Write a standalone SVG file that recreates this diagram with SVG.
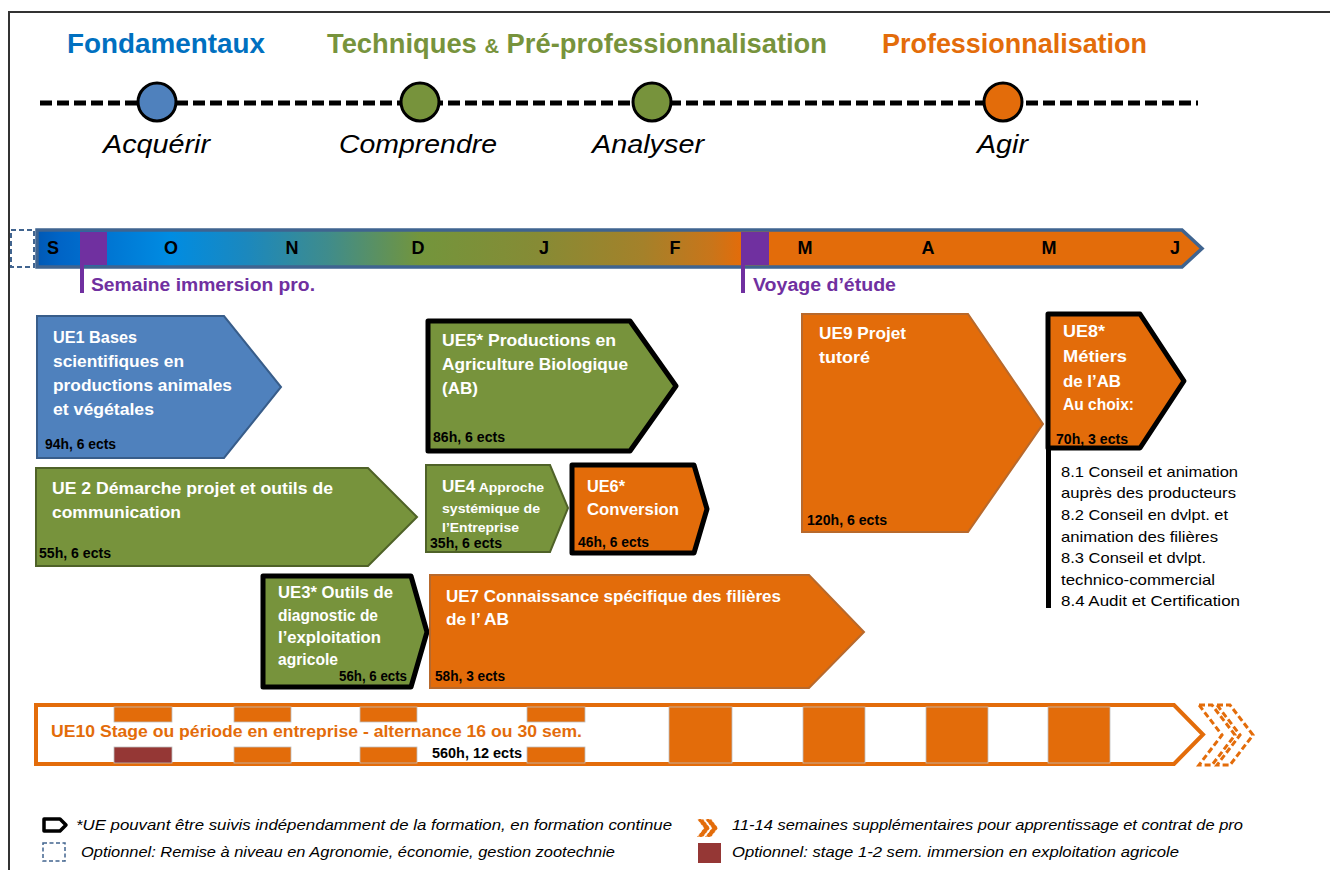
<svg xmlns="http://www.w3.org/2000/svg" width="1330" height="870" viewBox="0 0 1330 870">
<style>
text{font-family:"Liberation Sans",Arial,sans-serif}
.ttl{font-weight:bold;font-size:27px}
.ph{font-style:italic;font-size:26px;fill:#000}
.mo{font-weight:bold;font-size:18px;fill:#000}
.pu{font-weight:bold;font-size:18px;fill:#7030A0}
.ue{font-weight:bold;font-size:16.5px;fill:#fff}
.ues{font-weight:bold;font-size:13.5px;fill:#fff}
.h{font-weight:bold;font-size:14px;fill:#000}
.li{font-size:15px;fill:#000}
.lg{font-style:italic;font-size:15px;fill:#000}
.blue{fill:#4F81BD;stroke:#385D8A;stroke-width:2}
.green{fill:#77933C;stroke:#4F6228;stroke-width:2}
.orange{fill:#E36C0A;stroke:#B8692C;stroke-width:2}
.star{stroke:#000;stroke-width:5;stroke-linejoin:round}
.gf{fill:#77933C}
.of{fill:#E36C0A}
.blk{fill:#E36C0A;stroke:#BFBFBF;stroke-width:0.8}
</style>
<defs>
<linearGradient id="tl" gradientUnits="userSpaceOnUse" x1="36" y1="0" x2="1202" y2="0">
<stop offset="0" stop-color="#0058B4"/>
<stop offset="0.02" stop-color="#0064C6"/>
<stop offset="0.115" stop-color="#008CE2"/>
<stop offset="0.18" stop-color="#1B88BE"/>
<stop offset="0.25" stop-color="#3F8C8C"/>
<stop offset="0.33" stop-color="#73953C"/>
<stop offset="0.43" stop-color="#868B35"/>
<stop offset="0.52" stop-color="#A4812A"/>
<stop offset="0.58" stop-color="#C9751A"/>
<stop offset="0.605" stop-color="#E36C0A"/>
<stop offset="1" stop-color="#E36C0A"/>
</linearGradient>
</defs>
<rect width="1330" height="870" fill="#fff"/>
<!-- frame -->
<path d="M9 870 V12 H1330" fill="none" stroke="#333" stroke-width="2"/>

<!-- titles -->
<g id="titles">
<text class="ttl" x="67" y="53" fill="#0070C0" textLength="198" lengthAdjust="spacingAndGlyphs">Fondamentaux</text>
<text class="ttl" x="327" y="53" fill="#77933C" textLength="500" lengthAdjust="spacingAndGlyphs">Techniques <tspan font-size="20px">&amp;</tspan> Pré-professionnalisation</text>
<text class="ttl" x="882" y="53" fill="#E36C0A" textLength="265" lengthAdjust="spacingAndGlyphs">Professionnalisation</text>
</g>

<!-- connectors -->
<g id="connectors">
<line x1="40" y1="103" x2="1198" y2="103" stroke="#000" stroke-width="5" stroke-dasharray="12 5"/>
</g>

<g id="phase-acquerir">
<circle cx="157" cy="102" r="19" fill="#4F81BD" stroke="#000" stroke-width="3"/>
<text class="ph" x="103" y="153" textLength="107" lengthAdjust="spacingAndGlyphs">Acquérir</text>
</g>
<g id="phase-comprendre">
<circle cx="420" cy="102" r="19" fill="#77933C" stroke="#000" stroke-width="3"/>
<text class="ph" x="339" y="153" textLength="158" lengthAdjust="spacingAndGlyphs">Comprendre</text>
</g>
<g id="phase-analyser">
<circle cx="652" cy="102" r="19" fill="#77933C" stroke="#000" stroke-width="3"/>
<text class="ph" x="592" y="153" textLength="112" lengthAdjust="spacingAndGlyphs">Analyser</text>
</g>
<g id="phase-agir">
<circle cx="1003" cy="102" r="19" fill="#E36C0A" stroke="#000" stroke-width="3"/>
<text class="ph" x="977" y="153" textLength="51" lengthAdjust="spacingAndGlyphs">Agir</text>
</g>

<!-- timeline -->
<g id="timeline">
<rect x="11" y="230" width="23" height="37" fill="none" stroke="#41648F" stroke-width="2" stroke-dasharray="5 3"/>
<polygon points="37,230 1182,230 1202,248.5 1182,267 37,267" fill="url(#tl)" stroke="#3F6490" stroke-width="3.5" stroke-linejoin="miter"/>
<rect x="80" y="232" width="27" height="33" fill="#7030A0"/>
<rect x="741" y="232" width="28" height="33" fill="#7030A0"/>
<rect x="80" y="265" width="4" height="28" fill="#7030A0"/>
<rect x="741" y="265" width="4" height="28" fill="#7030A0"/>
<text class="mo" x="53" y="254" text-anchor="middle">S</text>
<text class="mo" x="171" y="254" text-anchor="middle">O</text>
<text class="mo" x="292" y="254" text-anchor="middle">N</text>
<text class="mo" x="418" y="254" text-anchor="middle">D</text>
<text class="mo" x="544" y="254" text-anchor="middle">J</text>
<text class="mo" x="675" y="254" text-anchor="middle">F</text>
<text class="mo" x="805" y="254" text-anchor="middle">M</text>
<text class="mo" x="928" y="254" text-anchor="middle">A</text>
<text class="mo" x="1049" y="254" text-anchor="middle">M</text>
<text class="mo" x="1175" y="254" text-anchor="middle">J</text>
<text class="pu" x="91" y="291" textLength="224" lengthAdjust="spacingAndGlyphs">Semaine immersion pro.</text>
<text class="pu" x="753" y="291" textLength="143" lengthAdjust="spacingAndGlyphs">Voyage d’étude</text>
</g>

<!-- UE1 -->
<g id="ue1">
<polygon class="blue" points="37,316 224,316 281,387 224,458 37,458"/>
<text class="ue" x="53" y="343" textLength="84" lengthAdjust="spacingAndGlyphs">UE1 Bases</text>
<text class="ue" x="53" y="367" textLength="131" lengthAdjust="spacingAndGlyphs">scientifiques en</text>
<text class="ue" x="53" y="391" textLength="179" lengthAdjust="spacingAndGlyphs">productions  animales</text>
<text class="ue" x="53" y="415" textLength="101" lengthAdjust="spacingAndGlyphs">et végétales</text>
<text class="h" x="45" y="449" textLength="71" lengthAdjust="spacingAndGlyphs">94h, 6 ects</text>
</g>

<!-- UE2 -->
<g id="ue2">
<polygon class="green" points="36,468 368,468 417,517 368,566 36,566"/>
<text class="ue" x="52" y="494" textLength="281" lengthAdjust="spacingAndGlyphs">UE 2 Démarche projet et outils de</text>
<text class="ue" x="52" y="518" textLength="129" lengthAdjust="spacingAndGlyphs">communication</text>
<text class="h" x="39" y="558" textLength="72" lengthAdjust="spacingAndGlyphs">55h, 6 ects</text>
</g>

<!-- UE3 -->
<g id="ue3">
<polygon class="gf star" points="263,576 411,576 427,632 411,687 263,687"/>
<text class="ue" x="278" y="598" textLength="115" lengthAdjust="spacingAndGlyphs">UE3* Outils de</text>
<text class="ue" x="278" y="621" textLength="100" lengthAdjust="spacingAndGlyphs">diagnostic de</text>
<text class="ue" x="278" y="643" textLength="103" lengthAdjust="spacingAndGlyphs">l’exploitation</text>
<text class="ue" x="278" y="665" textLength="60" lengthAdjust="spacingAndGlyphs">agricole</text>
<text class="h" x="339" y="681" textLength="68" lengthAdjust="spacingAndGlyphs">56h, 6 ects</text>
</g>

<!-- UE4 -->
<g id="ue4">
<polygon class="green" points="426,465 550,465 568,508 550,552 426,552"/>
<text class="ue" x="442" y="492" textLength="102" lengthAdjust="spacingAndGlyphs">UE4<tspan font-size="13.5px"> Approche</tspan></text>
<text class="ues" x="442" y="513" textLength="98" lengthAdjust="spacingAndGlyphs">systémique de</text>
<text class="ues" x="442" y="532" textLength="77" lengthAdjust="spacingAndGlyphs">l’Entreprise</text>
<text class="h" x="430" y="548" textLength="72" lengthAdjust="spacingAndGlyphs">35h, 6 ects</text>
</g>

<!-- UE5 -->
<g id="ue5">
<polygon class="gf star" points="428,321 630,321 676,386 630,451 428,451"/>
<text class="ue" x="442" y="346" textLength="174" lengthAdjust="spacingAndGlyphs">UE5* Productions  en</text>
<text class="ue" x="442" y="370" textLength="186" lengthAdjust="spacingAndGlyphs">Agriculture Biologique</text>
<text class="ue" x="442" y="394" textLength="36" lengthAdjust="spacingAndGlyphs">(AB)</text>
<text class="h" x="433" y="442" textLength="72" lengthAdjust="spacingAndGlyphs">86h, 6 ects</text>
</g>

<!-- UE6 -->
<g id="ue6">
<polygon class="of star" points="572,465 694,465 707,509 694,553 572,553"/>
<text class="ue" x="587" y="492" textLength="38" lengthAdjust="spacingAndGlyphs">UE6*</text>
<text class="ue" x="587" y="515" textLength="92" lengthAdjust="spacingAndGlyphs">Conversion</text>
<text class="h" x="578" y="547" textLength="71" lengthAdjust="spacingAndGlyphs">46h, 6 ects</text>
</g>

<!-- UE7 -->
<g id="ue7">
<polygon class="orange" points="430,575 809,575 864,632 809,688 430,688"/>
<text class="ue" x="446" y="602" textLength="335" lengthAdjust="spacingAndGlyphs">UE7 Connaissance  spécifique des filières</text>
<text class="ue" x="446" y="625" textLength="63" lengthAdjust="spacingAndGlyphs">de l’ AB</text>
<text class="h" x="435" y="681" textLength="70" lengthAdjust="spacingAndGlyphs">58h, 3 ects</text>
</g>

<!-- UE9 -->
<g id="ue9">
<polygon class="orange" points="802,314 968,314 1043,424 968,532 802,532"/>
<text class="ue" x="819" y="339" textLength="87" lengthAdjust="spacingAndGlyphs">UE9 Projet</text>
<text class="ue" x="819" y="363" textLength="51" lengthAdjust="spacingAndGlyphs">tutoré</text>
<text class="h" x="807" y="525" textLength="80" lengthAdjust="spacingAndGlyphs">120h, 6 ects</text>
</g>

<!-- UE8 -->
<g id="ue8">
<polygon class="of star" points="1048,314 1140,314 1184,381 1140,448 1048,448"/>
<line x1="1048.5" y1="448" x2="1048.5" y2="608" stroke="#000" stroke-width="5"/>
<text class="ue" x="1063" y="337" textLength="42" lengthAdjust="spacingAndGlyphs">UE8*</text>
<text class="ue" x="1063" y="362" textLength="64" lengthAdjust="spacingAndGlyphs">Métiers</text>
<text class="ue" x="1063" y="387" textLength="58" lengthAdjust="spacingAndGlyphs">de l’AB</text>
<text class="ue" x="1063" y="410" font-size="14px" textLength="71" lengthAdjust="spacingAndGlyphs">Au choix:</text>
<text class="h" x="1056" y="444" textLength="72" lengthAdjust="spacingAndGlyphs">70h, 3 ects</text>
<text class="li" x="1061" y="477" textLength="177" lengthAdjust="spacingAndGlyphs">8.1 Conseil et animation</text>
<text class="li" x="1061" y="498" textLength="175" lengthAdjust="spacingAndGlyphs">auprès des producteurs</text>
<text class="li" x="1061" y="520" textLength="167" lengthAdjust="spacingAndGlyphs">8.2 Conseil en dvlpt. et</text>
<text class="li" x="1061" y="542" textLength="157" lengthAdjust="spacingAndGlyphs">animation des filières</text>
<text class="li" x="1061" y="563" textLength="145" lengthAdjust="spacingAndGlyphs">8.3 Conseil et dvlpt.</text>
<text class="li" x="1061" y="585" textLength="154" lengthAdjust="spacingAndGlyphs">technico-commercial</text>
<text class="li" x="1061" y="606" textLength="179" lengthAdjust="spacingAndGlyphs">8.4 Audit et Certification</text>
</g>

<!-- UE10 -->
<g id="ue10">
<polygon points="36,705 1174,705 1203,734.5 1174,764 36,764" fill="#fff" stroke="#E36C0A" stroke-width="4"/>
<rect class="blk" x="114" y="707" width="58" height="15"/>
<rect x="114" y="747" width="58" height="16" fill="#953735" stroke="#BFBFBF" stroke-width="0.8"/>
<rect class="blk" x="234" y="707" width="57" height="15"/>
<rect class="blk" x="234" y="747" width="57" height="16"/>
<rect class="blk" x="360" y="707" width="57" height="15"/>
<rect class="blk" x="360" y="747" width="57" height="16"/>
<rect class="blk" x="527" y="707" width="58" height="15"/>
<rect class="blk" x="527" y="747" width="58" height="16"/>
<rect class="blk" x="669" y="707" width="63" height="56"/>
<rect class="blk" x="803" y="707" width="62" height="56"/>
<rect class="blk" x="926" y="707" width="62" height="56"/>
<rect class="blk" x="1048" y="707" width="62" height="56"/>
<text class="ue" x="51" y="737" font-size="17.5px" style="fill:#E36C0A" textLength="531" lengthAdjust="spacingAndGlyphs">UE10 Stage ou période en entreprise - alternance 16 ou 30 sem.</text>
<text class="h" x="432" y="758" textLength="90" lengthAdjust="spacingAndGlyphs">560h, 12 ects</text>
<g fill="none" stroke="#E36C0A" stroke-width="3" stroke-dasharray="6 3">
<polygon points="1199,705 1212,705 1235,735 1212,765 1199,765 1222,735"/>
<polygon points="1217,705 1230,705 1253,735 1230,765 1217,765 1240,735"/>
</g>
</g>

<!-- legend -->
<g id="legend">
<polygon points="44,819 60,819 66,825 60,831 44,831" fill="#fff" stroke="#000" stroke-width="3.5" stroke-linejoin="round"/>
<text class="lg" x="76" y="830" textLength="596" lengthAdjust="spacingAndGlyphs">*UE pouvant être suivis  indépendamment de la formation, en formation continue</text>
<rect x="43" y="843" width="22" height="18" fill="none" stroke="#41648F" stroke-width="1.5" stroke-dasharray="4 2.5"/>
<text class="lg" x="81" y="857" textLength="534" lengthAdjust="spacingAndGlyphs">Optionnel: Remise à niveau en Agronomie, économie, gestion zootechnie</text>
<g fill="#E36C0A" stroke="#fff" stroke-width="0.8" stroke-dasharray="2 2">
<polygon points="697,819 703,819 710,828 703,837 697,837 704,828"/>
<polygon points="705,819 711,819 718,828 711,837 705,837 712,828"/>
</g>
<text class="lg" x="732" y="830" textLength="511" lengthAdjust="spacingAndGlyphs">11-14 semaines supplémentaires pour apprentissage et contrat de pro</text>
<rect x="698" y="843" width="23" height="20" fill="#953735"/>
<text class="lg" x="732" y="857" textLength="447" lengthAdjust="spacingAndGlyphs">Optionnel: stage 1-2 sem. immersion en exploitation agricole</text>
</g>
</svg>
